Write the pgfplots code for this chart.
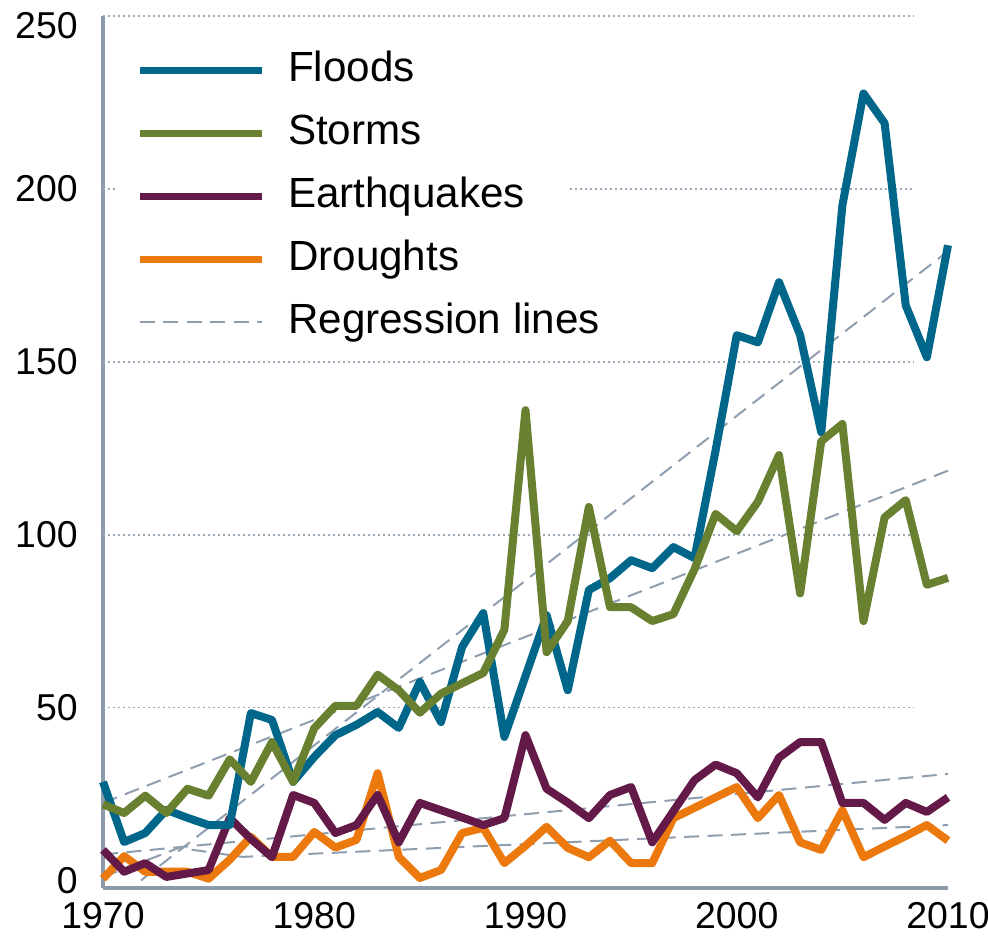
\documentclass[border=0pt]{standalone}
\usepackage{fontspec}
\setmainfont{Liberation Sans}
\usepackage{pgfplots}
\pgfplotsset{compat=1.18}
\usepackage{pgfplotstable}

\definecolor{flood}{HTML}{00668A}
\definecolor{storm}{HTML}{68802F}
\definecolor{quake}{HTML}{641A48}
\definecolor{drought}{HTML}{EB790D}
\definecolor{reg}{HTML}{8E9EAF}
\definecolor{axisgray}{HTML}{8C9BAA}
\definecolor{gridc}{HTML}{9AA8B8}

\pgfplotstableread{
year floods storms quakes droughts
1970 28.5  22    8.8  0.5
1971 11.1  19.5  2.5  7
1972 13.7  24.5  5    2.5
1973 20.4  19.5  1    2.5
1974 18.1  26.5  2    2.5
1975 16    24.5  3    0.5
1976 16    35    18   6
1977 48.4  28.5  12   12.6
1978 46.4  40    6.7  6.8
1979 28.5  28.5  24.7 6.8
1980 35.7  44    22.4 14
1981 42    50.5  13.7 9.5
1982 45    50.5  16   11.7
1983 48.7  59.5  24.7 31
1984 44.1  55    11   6.8
1985 57.4  48.5  22.4 0.7
1986 45.8  54    20.3 3
1987 67.5  57    18.2 13.7
1988 77.3  60    16   15.2
1989 41.5  72.5  18   5
1990 59.1  136   42   10
1991 76.7  66    26.5 15.5
1992 55    75    22.5 9.4
1993 84    108   18   6.7
1994 87.4  79    24.7 11.5
1995 92.6  79    27   5
1996 90.3  75    11   5
1997 96.4  77    20   18
1998 93.2  90    29   21
1999 124.4 106   33.5 24
2000 157.7 101   31   27
2001 155.6 109.5 24   18
2002 173   123   35.5 24.7
2003 157.7 83    40   11
2004 129.6 127   40   8.8
2005 195.2 132   22.4 20.3
2006 227.6 75    22.4 6.7
2007 219   105   17.5 9.8
2008 166.3 110   22.4 12.8
2009 151.3 85.5  19.8 16
2010 183.7 87.5  24   11.5
}\disasters

\newcommand{\tickfont}{\fontsize{21.3pt}{25pt}\selectfont}
\newcommand{\legfont}{\fontsize{24pt}{28pt}\selectfont}

\begin{document}
\begin{tikzpicture}
\begin{axis}[
  at={(0,0)}, anchor=south west,
  scale only axis,
  width=16.9cm, height=17.44cm,
  xmin=1970, xmax=2010,
  ymin=-2.2, ymax=250,
  clip=false,
  axis x line*=bottom, axis y line*=left,
  axis line style={axisgray, line width=0.09cm},
  major tick length=0pt,
  xtick={1970,1980,1990,2000,2010},
  xticklabels={1970,1980,1990,2000,2010},
  ytick={0,50,100,150,200},
  yticklabels={0,50,100,150,200},
  extra y ticks={250},
  extra y tick labels={250},
  extra y tick style={yticklabel style={yshift=-0.2cm}},
  xticklabel style={font=\tickfont, anchor=north, inner sep=0pt, yshift=-0.29cm},
  yticklabel style={font=\tickfont, anchor=east, inner sep=0pt, xshift=-0.5cm},
  legend style={at={(axis cs:1970.7,241.3)}, anchor=north west, draw=none, fill=none,
    font=\legfont, inner xsep=0.36cm, inner ysep=0.1cm,
    nodes={inner sep=0pt, text height=0.6cm, text depth=0.2cm},
    row sep=0.46cm, column sep=0.45cm},
  legend cell align=left,
  legend image code/.code={\draw[#1] (0cm,0.02cm) -- (2.44cm,0.02cm);},
]
% dotted grid lines; the one at 200 is broken where the legend sits
\pgfplotsinvokeforeach{50,100,150,250}{
  \draw[gridc, line width=0.035cm, dash pattern=on 0.035cm off 0.065cm]
    (axis cs:1970,#1) -- (axis cs:2008.4,#1);
}
\draw[gridc, line width=0.035cm, dash pattern=on 0.035cm off 0.065cm]
  (axis cs:1970,200) -- (axis cs:1970.7,200);
\draw[gridc, line width=0.035cm, dash pattern=on 0.035cm off 0.065cm]
  (axis cs:1992.1,200) -- (axis cs:2008.4,200);

\addlegendimage{flood, line width=0.15cm}
\addlegendentry{Floods}
\addlegendimage{storm, line width=0.15cm}
\addlegendentry{Storms}
\addlegendimage{quake, line width=0.15cm}
\addlegendentry{Earthquakes}
\addlegendimage{drought, line width=0.15cm}
\addlegendentry{Droughts}
\addlegendimage{reg, line width=0.04cm, dash pattern=on 0.3cm off 0.17cm}
\addlegendentry{Regression lines}

\pgfplotsset{every axis plot/.append style={forget plot}}
% regression lines
\addplot[reg, line width=0.04cm, dash pattern=on 0.3cm off 0.17cm] coordinates {(1971.8,0) (2010,182)};
\addplot[reg, line width=0.04cm, dash pattern=on 0.3cm off 0.17cm] coordinates {(1970,22.4) (2010,118.5)};
\addplot[reg, line width=0.04cm, dash pattern=on 0.3cm off 0.17cm] coordinates {(1970,7.5) (2010,30.8)};
\addplot[reg, line width=0.04cm, dash pattern=on 0.3cm off 0.17cm] coordinates {(1970,1) (1973.6,9.4) (1976.6,6.8) (2010,16)};

\addplot[drought, line width=0.16cm, line join=round] table[x=year, y=droughts] {\disasters};
\addplot[quake, line width=0.16cm, line join=round] table[x=year, y=quakes] {\disasters};
\addplot[flood, line width=0.16cm, line join=round] table[x=year, y=floods] {\disasters};
\addplot[storm, line width=0.16cm, line join=round] table[x=year, y=storms] {\disasters};
\end{axis}
\pgfresetboundingbox
\path (-2.06cm,-0.96cm) rectangle (17.70cm,17.76cm);
\end{tikzpicture}
\end{document}
